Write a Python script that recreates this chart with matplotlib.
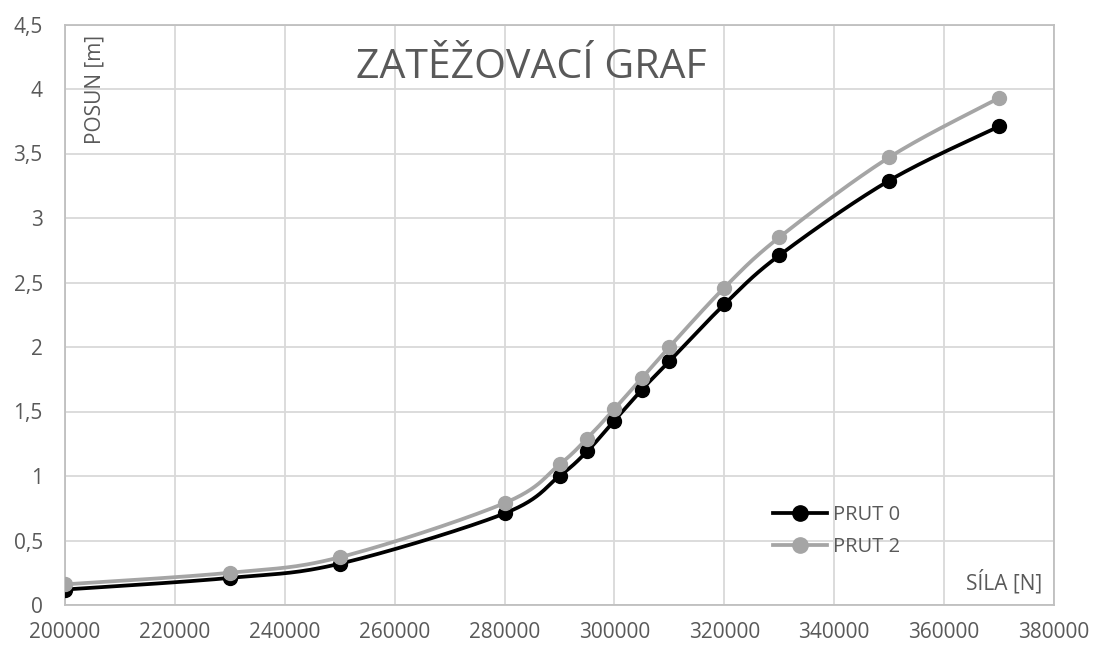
import numpy as np
import matplotlib.pyplot as plt
from matplotlib.ticker import FuncFormatter

sila = [200000, 230000, 250000, 280000, 290000, 295000, 300000,
        305000, 310000, 320000, 330000, 350000, 370000]
prut0 = [0.12, 0.21, 0.32, 0.71, 1.00, 1.19, 1.43, 1.67, 1.89, 2.33, 2.71, 3.29, 3.71]
prut2 = [0.16, 0.25, 0.37, 0.79, 1.09, 1.29, 1.52, 1.76, 2.00, 2.46, 2.85, 3.47, 3.93]

x_ticks = np.arange(200000, 380001, 20000)
y_ticks = np.arange(0, 4.51, 0.5)

TXT = '#595959'
plt.rcParams['font.family'] = ['Open Sans', 'DejaVu Sans']


def smooth(xs, ys, sx, sy, n=30):
    # Bezier smoothing like office charts: control points from neighbour chords
    p = np.column_stack([np.asarray(xs, float) / sx, np.asarray(ys, float) / sy])
    out = []
    for i in range(len(p) - 1):
        p0 = p[i - 1] if i > 0 else p[i]
        p3 = p[i + 2] if i + 2 < len(p) else p[i + 1]
        c1 = p[i] + (p[i + 1] - p0) / 6
        c2 = p[i + 1] - (p3 - p[i]) / 6
        t = np.linspace(0, 1, n)[:, None]
        seg = ((1 - t) ** 3 * p[i] + 3 * (1 - t) ** 2 * t * c1
               + 3 * (1 - t) * t ** 2 * c2 + t ** 3 * p[i + 1])
        out.append(seg if i == 0 else seg[1:])
    c = np.vstack(out)
    return c[:, 0] * sx, c[:, 1] * sy


fig = plt.figure(figsize=(10.94, 6.48), dpi=100)
ax = fig.add_axes([65 / 1094, 1 - 605 / 648, 989 / 1094, 580.5 / 648])

# scale factors: data units per pixel
sx = 180000 / 989
sy = 4.5 / 580.5

for ys, col, lab in [(prut0, 'black', 'PRUT 0'), (prut2, '#A5A5A5', 'PRUT 2')]:
    cx, cy = smooth(sila, ys, sx, sy)
    ax.plot(cx, cy, color=col, lw=2.7, solid_capstyle='round', zorder=3)
    ax.plot(sila, ys, 'o', color=col, ms=10, zorder=4)
    ax.plot([], [], '-o', color=col, lw=2.7, ms=11, label=lab)

ax.set_xlim(200000, 380000)
ax.set_ylim(0, 4.5)
ax.set_xticks(x_ticks)
ax.set_yticks(y_ticks)
ax.yaxis.set_major_formatter(FuncFormatter(lambda v, p: ('%g' % v).replace('.', ',')))
ax.tick_params(length=0, labelsize=15, colors=TXT)
ax.tick_params(axis='x', pad=12)
ax.tick_params(axis='y', pad=16)
ax.grid(color='#D9D9D9', lw=1.3)
ax.set_axisbelow(True)
for s in ax.spines.values():
    s.set_color('#BFBFBF')
    s.set_linewidth(1.3)

fig.text(531 / 1094, 1 - 68 / 648, 'ZATĚŽOVACÍ GRAF', ha='center', va='center',
         fontsize=29.5, color=TXT)
ax.text(0.03, 0.982, 'POSUN [m]', transform=ax.transAxes, rotation=90,
        ha='center', va='top', fontsize=15, color=TXT)
ax.text(0.988, 0.04, 'SÍLA [N]', transform=ax.transAxes,
        ha='right', va='center', fontsize=15, color=TXT)

leg = ax.legend(loc='center left', bbox_to_anchor=(0.716, 0.127), frameon=False,
                fontsize=14.5, handlelength=2.7, handletextpad=0.25,
                labelspacing=0.6, borderpad=0, borderaxespad=0)
for t in leg.get_texts():
    t.set_color(TXT)

fig.savefig('out.png', dpi=100)
